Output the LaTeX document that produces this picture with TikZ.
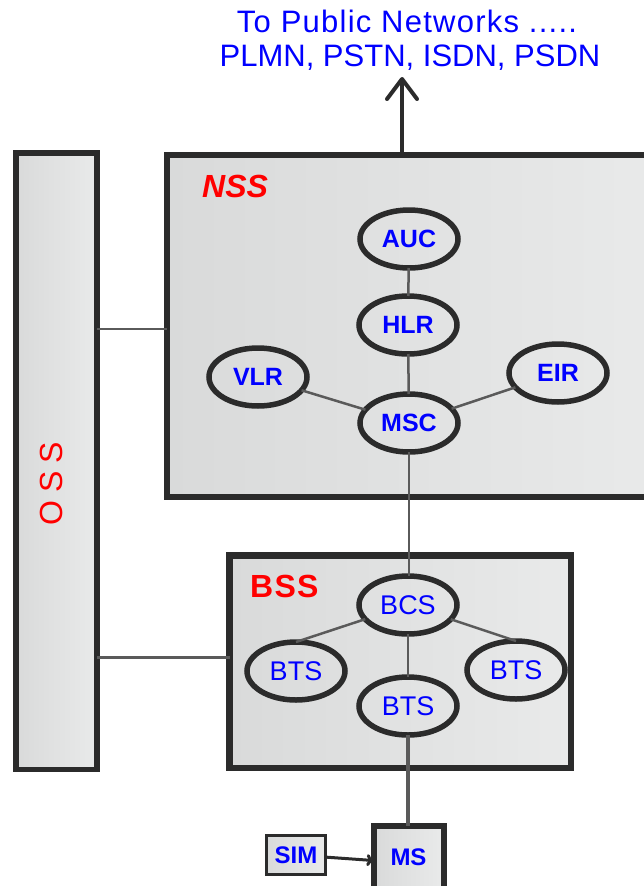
\documentclass[tikz,border=0pt]{standalone}
\usepackage{fontspec}
\setmainfont{Liberation Sans}
\usetikzlibrary{shapes.geometric,arrows.meta}
\definecolor{edge}{HTML}{2B2B2B}
\definecolor{linkgray}{HTML}{5A5A5A}
\definecolor{fillL}{HTML}{D9DADA}
\definecolor{fillR}{HTML}{E9EAEA}
\definecolor{netblue}{HTML}{0000FF}
\definecolor{labred}{HTML}{FF0000}
\begin{document}
\begin{tikzpicture}[x=1pt,y=-1pt,
  box/.style={draw=edge, rectangle, inner sep=0pt, outer sep=0pt, left color=fillL, right color=fillR},
  ell/.style={draw=edge, ellipse, line width=5.5pt, minimum width=98pt, minimum height=58pt,
    inner sep=0pt, outer sep=0pt, text=netblue, font=\fontsize{25}{25}\selectfont\bfseries},
  bssell/.style={ell, font=\fontsize{27}{27}\selectfont},
  link/.style={draw=linkgray, line width=2.5pt},
  grouplabel/.style={text=labred, inner sep=0pt, anchor=base west},
  titletext/.style={text=netblue, inner sep=0pt, anchor=base, font=\fontsize{31}{34}\selectfont},
  smallbox/.style={box, text=netblue, font=\fontsize{24}{24}\selectfont\bfseries}
]
\useasboundingbox (0,0) rectangle (644,886);
\begin{scope}
\clip (0,0) rectangle (644,886);
% group boxes
\node[box, line width=5.5pt, minimum width=81pt, minimum height=616.5pt] (oss) at (56.5,461.25) {};
\node[box, line width=6pt, minimum width=493pt, minimum height=342pt] (nss) at (413.5,326) {};
\node[box, line width=6.5pt, minimum width=341.5pt, minimum height=212.5pt] (bss) at (400.25,661.75) {};
\node[smallbox, line width=6pt, minimum width=70pt, minimum height=74pt] (ms) at (408.5,863) {};
\node[smallbox, line width=3pt, minimum width=59pt, minimum height=39pt] (sim) at (296,855) {SIM};
\node[text=netblue, font=\fontsize{24}{24}\selectfont\bfseries] (mslabel) at (408.5,857) {MS};

% group labels
\node[grouplabel, font=\fontsize{32}{32}\selectfont\bfseries\itshape] (nsslabel) at (202,197) {NSS};
\node[grouplabel, font=\fontsize{32}{32}\selectfont\bfseries\addfontfeature{LetterSpace=4}] (bsslabel) at (250,597) {BSS};
\node[text=labred, inner sep=0pt, rotate=90, font=\fontsize{32}{32}\selectfont\addfontfeature{LetterSpace=25}] (osslabel) at (51,484) {OSS};

% title
\node[titletext, font=\fontsize{31}{34}\selectfont\addfontfeature{LetterSpace=4}] (title1) at (407,32) {To Public Networks .....};
\node[titletext] (title2) at (410,66) {PLMN, PSTN, ISDN, PSDN};

% NSS elements
\node[ell] (auc) at (409,239) {AUC};
\node[ell] (hlr) at (408,325) {HLR};
\node[ell] (vlr) at (258,377) {VLR};
\node[ell] (eir) at (558,373) {EIR};
\node[ell] (msc) at (409,423) {MSC};

% BSS elements
\node[bssell] (bcs) at (408,605) {BCS};
\node[bssell] (btsl) at (296,671) {BTS};
\node[bssell] (btsr) at (516,670) {BTS};
\node[bssell] (btsm) at (408,706) {BTS};

% connectors
\coordinate (y1) at (0,329);
\coordinate (y2) at (0,657);
\draw[link] (oss.east |- y1) -- (nss.west |- y1);
\draw[link, line width=3pt] (oss.east |- y2) -- (bss.west |- y2);
\draw[link] (auc) -- (hlr);
\draw[link] (hlr) -- (msc);
\draw[link] (vlr) -- (msc);
\draw[link] (eir) -- (msc);
\draw[link] (msc.south) -- (bcs.north -| msc.south);
\draw[link] (bcs) -- (btsl.north);
\draw[link] (bcs) -- (btsr.north);
\draw[link] (bcs) -- (btsm);
\draw[link, line width=4pt] (btsm.south) -- (ms.north -| btsm.south);

\coordinate (up) at (402,77);
\draw[edge, line width=4pt, line cap=round, -{Straight Barb[length=20pt,width=30pt,round]}] (nss.north -| up) -- (up);
\draw[edge, line width=3pt, -{To[length=7pt,width=12pt]}] (sim) -- (ms);
\end{scope}
\end{tikzpicture}
\end{document}
